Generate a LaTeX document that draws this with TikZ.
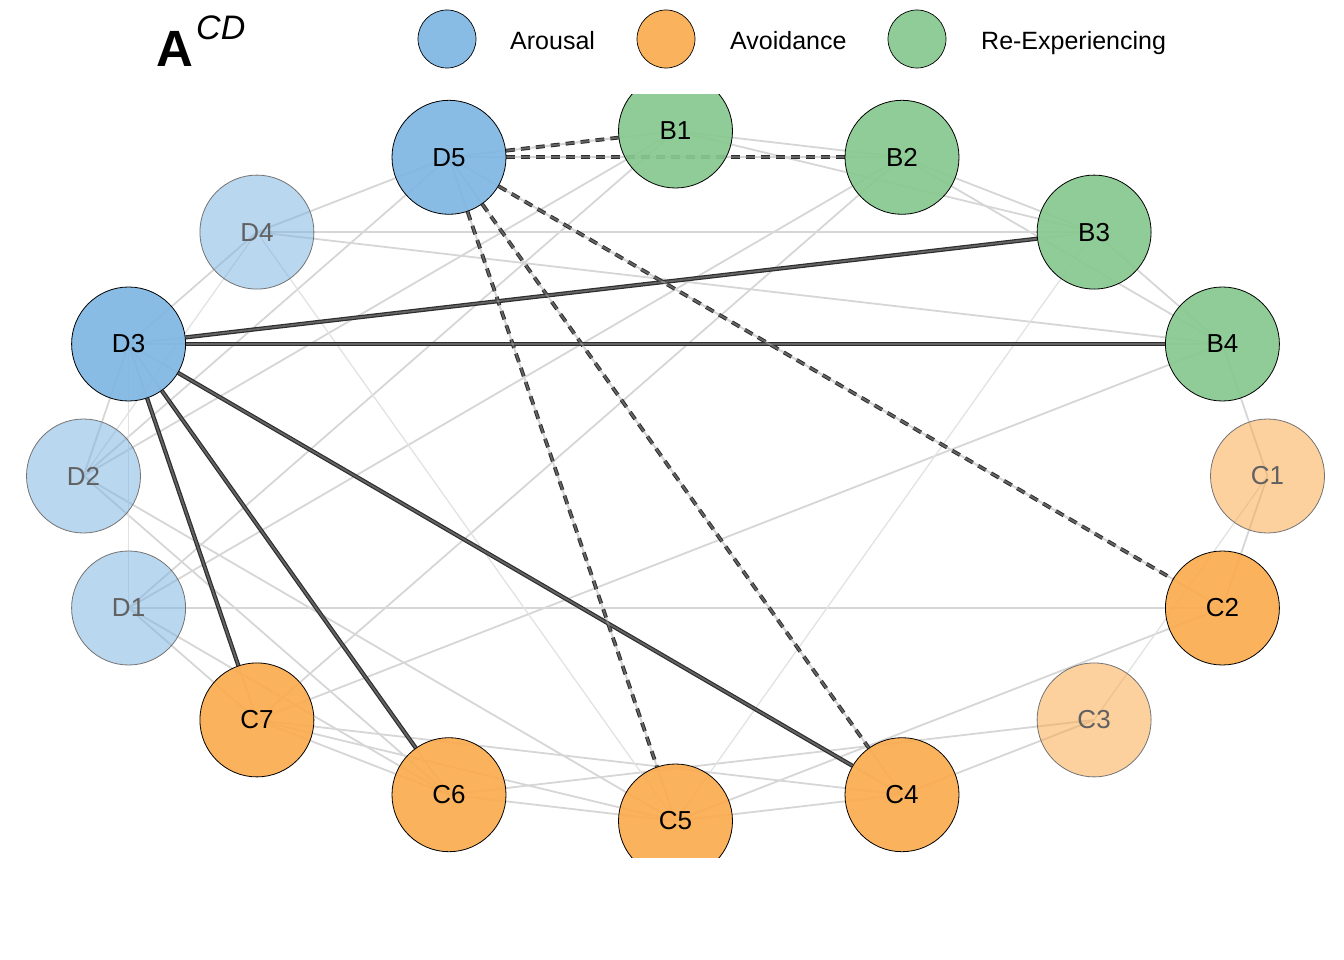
\documentclass[tikz,border=0pt]{standalone}
\usepackage{fontspec}
\setmainfont{Liberation Sans}
\pgfdeclarelayer{background}
\pgfsetlayers{background,main}
\definecolor{arousal}{RGB}{127,182,226}
\definecolor{avoid}{RGB}{251,171,78}
\definecolor{reexp}{RGB}{134,200,142}
\definecolor{arousalL}{RGB}{137,188,228}
\definecolor{avoidL}{RGB}{251,178,92}
\definecolor{reexpL}{RGB}{144,204,151}
\definecolor{edgegray}{RGB}{214,214,214}
\definecolor{edgefaint}{RGB}{226,226,226}
\definecolor{darkedge}{RGB}{45,45,45}
\begin{document}
\begin{tikzpicture}[x=1pt,y=-1pt,
  nd/.style={circle, minimum size=114pt, inner sep=0pt, draw=black, line width=0.8pt,
    fill opacity=0.92, draw opacity=1, text opacity=1,
    font=\fontsize{26}{26}\selectfont},
  faded/.style={draw=black!55, text=black!62, fill opacity=0.55},
  legc/.style={circle, minimum size=58pt, inner sep=0pt, draw=black, line width=0.7pt},
  legt/.style={anchor=base west, inner sep=0pt, font=\fontsize{25}{25}\selectfont},
  gedge/.style={draw=edgegray, line width=1.8pt},
  gfaint/.style={draw=edgefaint, line width=1.3pt},
  solidedge/.style={draw=darkedge, line width=4.2pt},
  dashedge/.style={draw=darkedge, line width=3.8pt, dash pattern=on 9pt off 6pt}
]
\useasboundingbox (0,0) rectangle (1344,960);

% title and legend
\node[anchor=base west, inner sep=0pt, font=\bfseries\fontsize{51}{51}\selectfont] (ttl) at (156,67) {A};
\node[anchor=base west, inner sep=0pt, font=\itshape\fontsize{34}{34}\selectfont] (ttlsup) at (196,40) {CD};
\node[legc, fill=arousalL] (l1) at (447,39) {};
\node[legt] (l1t) at (510,50) {Arousal};
\node[legc, fill=avoidL] (l2) at (666,39) {};
\node[legt] (l2t) at (730,50) {Avoidance};
\node[legc, fill=reexpL] (l3) at (917,39) {};
\node[legt] (l3t) at (981,50) {Re-Experiencing};

% nodes
\begin{scope}
\clip (0,95) rectangle (1344,857);
\node[nd, fill=reexp] (B1) at (675.5,131) {B1};
\node[nd, fill=reexp] (B2) at (902,157.3) {B2};
\node[nd, fill=reexp] (B3) at (1094.1,232.1) {B3};
\node[nd, fill=reexp] (B4) at (1222.4,344) {B4};
\node[nd, faded, fill=avoid] (C1) at (1267.5,476) {C1};
\node[nd, fill=avoid] (C2) at (1222.4,608) {C2};
\node[nd, faded, fill=avoid] (C3) at (1094.1,719.9) {C3};
\node[nd, fill=avoid] (C4) at (902,794.7) {C4};
\node[nd, fill=avoid] (C5) at (675.5,821) {C5};
\node[nd, fill=avoid] (C6) at (449,794.7) {C6};
\node[nd, fill=avoid] (C7) at (256.9,719.9) {C7};
\node[nd, faded, fill=arousal] (D1) at (128.6,608) {D1};
\node[nd, faded, fill=arousal] (D2) at (83.5,476) {D2};
\node[nd, fill=arousal] (D3) at (128.6,344) {D3};
\node[nd, faded, fill=arousal] (D4) at (256.9,232.1) {D4};
\node[nd, fill=arousal] (D5) at (449,157.3) {D5};
\end{scope}

\def\grayedges{D5/B1, D5/B2, B1/B2, B1/B3, B2/B3, B2/B4, B3/B4, D4/B3, D4/B4, D4/D5,
  D5/D2, B1/D2, B1/D1, B2/D1, B2/C7, B4/C1, B4/C7, D3/B3, D3/B4, D3/C7, D3/C6, D3/C4,
  D5/C5, D5/C4, D5/C2, D1/C2, C2/C5, C1/C2, C3/C4, C3/C6, C7/C6, C7/C5, C7/C4,
  C6/C5, C5/C4, D2/C5, D2/C6, D1/C6, D1/C7, D2/D3, D4/D3}
\def\faintedges{D4/C5, B3/C5, C1/C3, D3/D1, D4/D2}

\begin{pgfonlayer}{background}
\clip (0,95) rectangle (1344,857);
\foreach \a/\b in \grayedges { \draw[gedge] (\a.center) -- (\b.center); }
\foreach \a/\b in \faintedges { \draw[gfaint] (\a.center) -- (\b.center); }
\foreach \a/\b in {D3/B3, D3/B4, D3/C7, D3/C6, D3/C4} { \draw[solidedge] (\a) -- (\b); }
\foreach \a/\b in {D5/B1, D5/B2, D5/C5, D5/C4, D5/C2} { \draw[dashedge] (\a) -- (\b); }
\begin{scope}[opacity=0.33]
\foreach \a/\b in {D3/B3, D3/B4, D3/C7, D3/C6, D3/C4, D5/B1, D5/B2, D5/C5, D5/C4, D5/C2}
  { \draw[gedge] (\a) -- (\b); }
\end{scope}
\end{pgfonlayer}
\end{tikzpicture}
\end{document}
